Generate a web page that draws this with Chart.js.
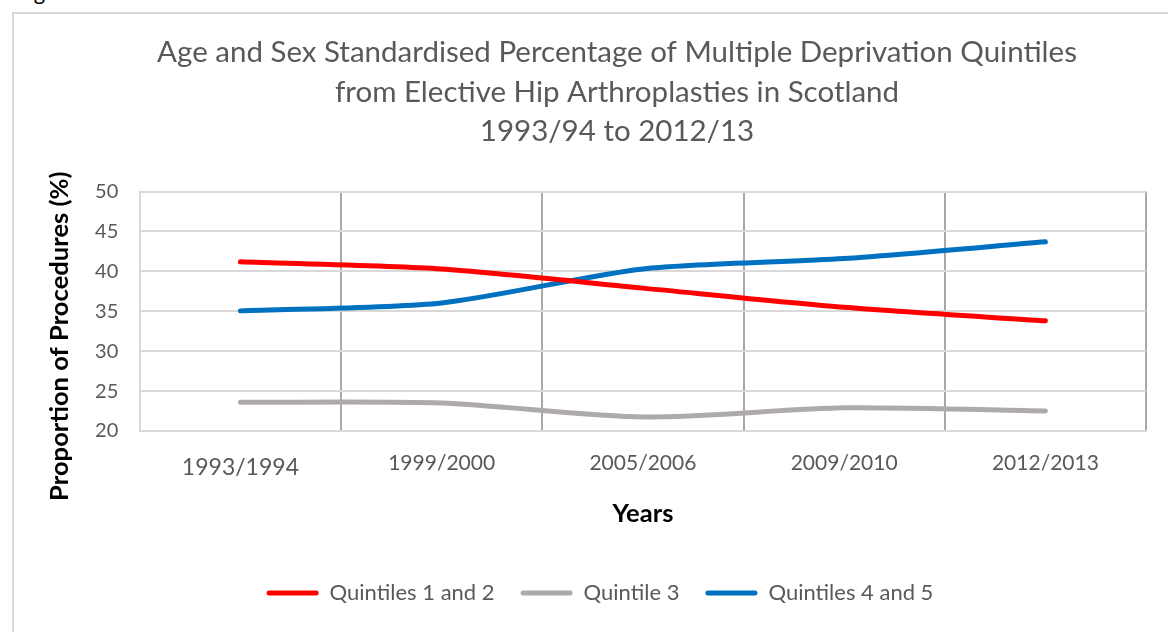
<!DOCTYPE html>
<html>
<head>
<meta charset="utf-8">
<script src="https://cdn.jsdelivr.net/npm/chart.js@4.4.0/dist/chart.umd.min.js"></script>
<style>
  html, body { margin: 0; padding: 0; background: #fff; overflow: hidden; }
  .caption {
    position: absolute; left: 16px; top: -18px;
    font: 22px/20px Lato, sans-serif; color: #000;
  }
  .frame {
    position: absolute; left: 12px; top: 12px;
    width: 1170px; height: 640px;
    border: 2px solid #d9d9d9; box-sizing: border-box;
  }
  #chart { position: absolute; left: 0; top: 0; }
</style>
</head>
<body>
<div class="caption">Figure</div>
<div class="frame"></div>
<canvas id="chart" width="1168" height="632"></canvas>
<script>
const years = ['1993/1994', '1999/2000', '2005/2006', '2009/2010', '2012/2013'];
const quintiles12 = [41.2, 40.3, 37.9, 35.5, 33.8];
const quintile3 = [23.6, 23.5, 21.75, 22.9, 22.5];
const quintiles45 = [35.05, 36.05, 40.3, 41.6, 43.7];

const yMin = 20;
const yMax = 50;
const yStep = 5;

const titleLines = [
  'Age and Sex Standardised Percentage of Multiple Deprivation Quintiles',
  'from Elective Hip Arthroplasties in Scotland',
  '1993/94 to 2012/13'
];

const FONT = 'Lato, "Open Sans", sans-serif';
const GREY_TEXT = '#595959';

// title and legend are centred a little right of the canvas middle
const nudgeBlocks = {
  id: 'nudgeBlocks',
  afterLayout(chart) {
    const shift = (box, dx) => {
      if (!box) return;
      box.left += dx;
      box.right += dx;
    };
    shift(chart.titleBlock, 31);
    shift(chart.legend, 14);
  }
};

const series = (label, data, color) => ({
  label: label,
  data: data,
  borderColor: color,
  backgroundColor: color,
  borderWidth: 5,
  borderCapStyle: 'round',
  borderJoinStyle: 'round',
  pointRadius: 0,
  pointHoverRadius: 0,
  tension: 0.25,
  fill: false
});

new Chart(document.getElementById('chart'), {
  type: 'line',
  data: {
    labels: years,
    datasets: [
      series('Quintiles 1 and 2', quintiles12, '#ff0000'),
      series('Quintile 3', quintile3, '#aeaaaa'),
      series('Quintiles 4 and 5', quintiles45, '#0070c0')
    ]
  },
  options: {
    responsive: false,
    devicePixelRatio: 1,
    animation: false,
    layout: {
      padding: { left: 26, right: 22, top: 12, bottom: 18 }
    },
    plugins: {
      title: {
        display: true,
        text: titleLines,
        color: GREY_TEXT,
        font: { family: FONT, size: 29.5, weight: 'normal', lineHeight: 1.34 },
        padding: { top: 21, bottom: 40 }
      },
      legend: {
        position: 'bottom',
        labels: {
          color: GREY_TEXT,
          font: { family: FONT, size: 22 },
          boxWidth: 52,
          boxHeight: 5,
          padding: 26,
          useBorderRadius: true,
          borderRadius: 2.5,
          generateLabels(chart) {
            return Chart.defaults.plugins.legend.labels.generateLabels(chart).map(item => {
              item.lineWidth = 0;
              return item;
            });
          }
        }
      },
      tooltip: { enabled: false }
    },
    scales: {
      x: {
        offset: true,
        grid: {
          offset: true,
          drawTicks: false,
          color: (ctx) => ctx.index === 0 ? '#d9d9d9' : '#a8a8a8',
          lineWidth: 2
        },
        border: { color: '#d9d9d9', width: 2 },
        ticks: {
          color: GREY_TEXT,
          padding: 20,
          font: (ctx) => ctx.index === 0
            ? { family: FONT, size: 23, lineHeight: 1.48 }
            : { family: FONT, size: 21, lineHeight: 1.143 }
        },
        title: {
          display: true,
          text: 'Years',
          color: '#000',
          font: { family: FONT, size: 25.5, weight: 'bold', lineHeight: 0.706 },
          padding: { top: 0, bottom: 33 }
        }
      },
      y: {
        min: yMin,
        max: yMax,
        grid: {
          drawTicks: false,
          color: '#d9d9d9',
          lineWidth: 2
        },
        border: { color: '#d9d9d9', width: 2 },
        ticks: {
          stepSize: yStep,
          color: GREY_TEXT,
          padding: 21.5,
          font: { family: FONT, size: 20 }
        },
        title: {
          display: true,
          // trailing spaces push the label a bit below the axis middle
          text: 'Proportion of Procedures (%)        ',
          color: '#000',
          font: { family: FONT, size: 25.6, weight: 'bold', lineHeight: 1.0 },
          padding: { top: 21, bottom: 1 }
        }
      }
    }
  },
  plugins: [nudgeBlocks]
});
</script>
</body>
</html>
